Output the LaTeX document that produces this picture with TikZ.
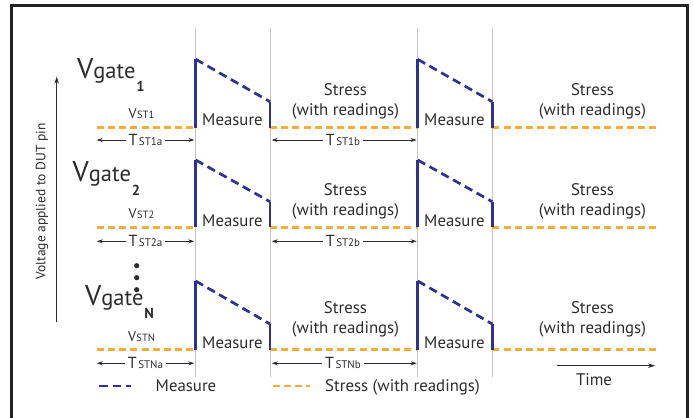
\documentclass[tikz,border=0pt]{standalone}
\usepackage{fontspec}
\setmainfont{PT Sans}
\usetikzlibrary{arrows.meta}

\definecolor{navy}{HTML}{2E3192}
\definecolor{amber}{HTML}{F4AC3A}
\definecolor{ink}{HTML}{2C2C2C}
\definecolor{guide}{HTML}{C4C4C4}
\definecolor{framecol}{HTML}{222222}

% label helpers: main letter plus smaller suffix on the same baseline
\newcommand\tlab[1]{{\fontsize{16}{16}\selectfont T}\hspace{1.5pt}{\fontsize{11}{11}\selectfont #1}}
\newcommand\vlab[1]{{\fontsize{14}{14}\selectfont V}\hspace{0.5pt}{\fontsize{10.5}{10}\selectfont #1}}
\newcommand\gatelab[1]{{\fontsize{28.5}{28}\selectfont V}{\fontsize{22.5}{21}\selectfont gate}\hspace{1pt}\raisebox{-13.5pt}{\fontsize{14.5}{15}\selectfont\bfseries #1}}

\tikzset{
  guideln/.style={guide, line width=1pt},
  stressln/.style={amber, line width=2.6pt, dash pattern=on 7pt off 4.2pt},
  measln/.style={navy, line width=2.7pt, dash pattern=on 8.5pt off 5pt},
  edgeln/.style={navy, line width=2.7pt},
  txt/.style={text=ink, inner sep=0pt, font=\fontsize{16.8}{19.8}\selectfont},
  tlbl/.style={text=ink, inner sep=2.5pt},
  dimarrow/.style={ink, line width=0.8pt, -{Stealth[length=6pt,width=4pt]}},
  axisarrow/.style={ink, line width=0.9pt, -{Stealth[length=7pt,width=4.5pt]}},
}

\begin{document}
\begin{tikzpicture}[x=1pt,y=-1pt]
\useasboundingbox (0,0) rectangle (694,418);

% outer frame (open at the bottom)
\draw[framecol, line width=3.4pt] (11.7,425) -- (11.7,5.3) -- (687.5,5.3) -- (687.5,425);

% time-slot guides
\foreach \gx in {195.7,270,417.7,492.3}
  \draw[guideln] (\gx,28) -- (\gx,377);

% waveform rows: row / baseline / peak / end of decay / V-label base / dim-arrow y / Stress last-line base / Measure base
\foreach \r/\yb/\yt/\yl/\vb/\ay/\sb/\mb in {
    1/127.7/59.3/101.7/118.3/140/115/125.7,
    2/227.3/160/201.7/218.5/241.3/215.5/226,
    N/349.7/281/324/341.5/363.3/333.5/348.3}{
  % stress segments
  \draw[stressln] (96.7,\yb) -- (195.7,\yb);
  \draw[stressln] (270,\yb) -- (417.7,\yb);
  \draw[stressln] (492.3,\yb) -- (660,\yb);
  % measure pulses
  \foreach \px/\qx in {195.7/270, 417.7/492.3}{
    \draw[edgeln] (\px,\yb) -- (\px,\yt);
    \draw[measln] (\px,\yt) -- (\qx,\yl);
    \draw[edgeln] (\qx,\yl) -- (\qx,\yb);
  }
  % labels
  \node[txt, anchor=base] (ma\r) at (232.5,\mb) {Measure};
  \node[txt, anchor=base] (mb\r) at (454.5,\mb) {Measure};
  \node[txt, anchor=base, align=center] (sa\r) at (345.5,\sb) {Stress\\(with readings)};
  \node[txt, anchor=base, align=center] (sb\r) at (592.5,\sb) {Stress\\(with readings)};
  \node[text=ink, inner sep=0pt, anchor=base] (vst\r) at (141.5,\vb) {\vlab{ST\r}};
  % stress-time dimensions
  \coordinate (tal\r) at (96.7,\ay);
  \coordinate (tar\r) at (194.3,\ay);
  \coordinate (tbl\r) at (271.7,\ay);
  \coordinate (tbr\r) at (416.7,\ay);
  \node[tlbl] (ta\r) at (145.5,\ay) {\tlab{ST\r a}};
  \node[tlbl] (tb\r) at (343,\ay) {\tlab{ST\r b}};
  \draw[dimarrow] (ta\r.west) -- (tal\r);
  \draw[dimarrow] (ta\r.east) -- (tar\r);
  \draw[dimarrow] (tb\r.west) -- (tbl\r);
  \draw[dimarrow] (tb\r.east) -- (tbr\r);
}

% gate names
\node[text=ink, inner sep=0pt, anchor=base west] (g1) at (77,78.3) {\gatelab{1}};
\node[text=ink, inner sep=0pt, anchor=base west] (g2) at (72.5,181.7) {\gatelab{2}};
\node[text=ink, inner sep=0pt, anchor=base west] (gN) at (85,305) {\gatelab{N}};
\foreach \dy in {265.7,277.7,289.7}
  \fill[ink] (136.7,\dy) circle (2.6pt);

% voltage axis
\coordinate (ylo) at (56.7,321.7);
\coordinate (yhi) at (56.7,76.7);
\draw[axisarrow] (ylo) -- (yhi);
\node[text=ink, inner sep=0pt, rotate=90, font=\fontsize{13.5}{14}\selectfont] (ylab) at (42,201.5) {Voltage applied to DUT pin};

% time axis
\coordinate (tlo) at (556.7,365.7);
\coordinate (thi) at (655,365.7);
\draw[axisarrow] (tlo) -- (thi);
\node[txt, anchor=base] (tlab) at (594,385) {Time};

% legend
\draw[measln] (99.3,386) -- (130.7,386);
\node[txt, anchor=base] (legm) at (186,391.7) {Measure};
\draw[stressln] (272.7,386) -- (310,386);
\node[txt, anchor=base] (legs) at (402.5,391.7) {Stress (with readings)};
\end{tikzpicture}
\end{document}
